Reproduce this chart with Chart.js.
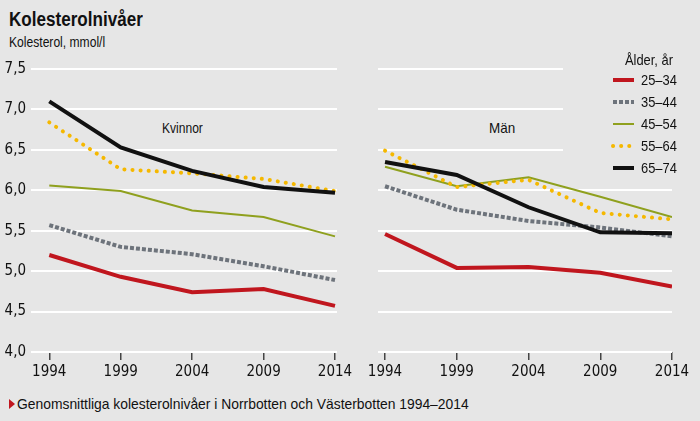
<!DOCTYPE html>
<html>
<head>
<meta charset="utf-8">
<script src="https://cdn.jsdelivr.net/npm/chart.js@4"></script>
<style>
  body {
    margin: 0;
    width: 700px;
    height: 421px;
    overflow: hidden;
    position: relative;
    background: #e6e6e6;
    font-family: "Liberation Sans", Arial, sans-serif;
    color: #111;
  }
  .abs { position: absolute; line-height: 1; white-space: nowrap; transform-origin: 0 50%; }
  #title { left: 9px; top: 9px; font-size: 20px; font-weight: bold; }
  #subtitle { left: 9px; top: 34px; font-size: 15px; }
  .panel { font-size: 15px; }
  #footer { left: 17px; top: 396px; font-size: 15px; }
  #tri {
    left: 9px; top: 399px; width: 0; height: 0;
    border-left: 6px solid #c0161e;
    border-top: 5px solid transparent;
    border-bottom: 5px solid transparent;
  }
  canvas { position: absolute; }
</style>
</head>
<body>
<div class="abs fit" id="title" data-w="134">Kolesterolnivåer</div>
<div class="abs fit" id="subtitle" data-w="96">Kolesterol, mmol/l</div>
<div class="abs panel fit" style="left:162px;top:120px" data-w="41">Kvinnor</div>
<div class="abs panel fit" style="left:489px;top:120px" data-w="26">Män</div>
<div class="abs" id="tri"></div>
<div class="abs fit" id="footer" data-w="452">Genomsnittliga kolesterolnivåer i Norrbotten och Västerbotten 1994–2014</div>
<canvas id="kvinnor" width="360" height="350" style="left:0;top:40px"></canvas>
<canvas id="man" width="350" height="350" style="left:350px;top:40px"></canvas>
<script>
const years = [1994, 1999, 2004, 2009, 2014];
const ageGroups = ["25–34", "35–44", "45–54", "55–64", "65–74"];
const yTicks = [4.0, 4.5, 5.0, 5.5, 6.0, 6.5, 7.0, 7.5];

// Kvinnor
const kvinnor25 = [5.20, 4.93, 4.74, 4.78, 4.57];
const kvinnor35 = [5.57, 5.30, 5.21, 5.06, 4.89];
const kvinnor45 = [6.06, 5.99, 5.75, 5.67, 5.43];
const kvinnor55 = [6.84, 6.26, 6.21, 6.14, 5.99];
const kvinnor65 = [7.10, 6.53, 6.24, 6.04, 5.97];

// Män
const man25 = [5.46, 5.04, 5.05, 4.98, 4.81];
const man35 = [6.05, 5.76, 5.62, 5.54, 5.43];
const man45 = [6.29, 6.05, 6.16, 5.92, 5.67];
const man55 = [6.49, 6.04, 6.13, 5.72, 5.64];
const man65 = [6.35, 6.19, 5.79, 5.48, 5.47];

const BG = "#e6e6e6";
const TICK_FONT = "'DejaVu Sans Condensed', sans-serif";
const TEXT_FONT = "'Liberation Sans', Arial, sans-serif";

// squeeze the html text into a condensed look
document.querySelectorAll(".fit").forEach((el) => {
  const s = Number(el.dataset.w) / el.offsetWidth;
  el.style.transform = "scaleX(" + s + ")";
});

const styles = [
  { borderColor: "#c0161e", borderWidth: 4, borderDash: [], borderCapStyle: "butt", order: 4 },
  { borderColor: "#6d737b", borderWidth: 4, borderDash: [4, 2], borderCapStyle: "butt", order: 3 },
  { borderColor: "#8fa01e", borderWidth: 2, borderDash: [], borderCapStyle: "butt", order: 2 },
  { borderColor: "#f5b800", borderWidth: 4, borderDash: [0.1, 8], borderCapStyle: "round", order: 1 },
  { borderColor: "#111111", borderWidth: 4, borderDash: [], borderCapStyle: "butt", order: 0 },
];

function makeDatasets(series) {
  return series.map((vals, i) => ({
    label: ageGroups[i],
    data: vals.map((v, j) => ({ x: years[j], y: v })),
    pointRadius: 0,
    tension: 0,
    fill: false,
    ...styles[i],
  }));
}

function squeezedText(ctx, text, x, y, align, sx) {
  ctx.save();
  ctx.translate(x, y);
  ctx.scale(sx, 1);
  ctx.textAlign = align;
  ctx.fillText(text, 0, 0);
  ctx.restore();
}

const legendPlugin = {
  id: "sideLegend",
  beforeDatasetsDraw(chart) {
    const ctx = chart.ctx;
    ctx.save();
    ctx.fillStyle = BG;
    ctx.fillRect(213, 10, 137, 125);
    ctx.restore();
  },
  afterDraw(chart) {
    const ctx = chart.ctx;
    ctx.save();
    ctx.font = "15px " + TEXT_FONT;
    ctx.fillStyle = "#111";
    ctx.textBaseline = "middle";
    squeezedText(ctx, "Ålder, år", 323, 21, "right", 0.86);
    chart.data.datasets.forEach((ds, i) => {
      const y = 40 + 22 * i;
      ctx.beginPath();
      ctx.strokeStyle = ds.borderColor;
      ctx.lineWidth = ds.borderWidth;
      ctx.lineCap = ds.borderCapStyle;
      ctx.setLineDash(ds.borderDash);
      ctx.moveTo(263, y);
      ctx.lineTo(284, y);
      ctx.stroke();
      ctx.setLineDash([]);
      squeezedText(ctx, ds.label, 291, y + 1, "left", 0.86);
    });
    ctx.restore();
  },
};

function makeChart(id, series, opts) {
  return new Chart(document.getElementById(id), {
    type: "line",
    data: { datasets: makeDatasets(series) },
    plugins: opts.plugins || [],
    options: {
      responsive: false,
      animation: false,
      layout: { padding: opts.padding },
      plugins: { legend: { display: false }, tooltip: { enabled: false } },
      scales: {
        x: {
          type: "linear",
          min: opts.xMin,
          max: opts.xMax,
          afterBuildTicks: (scale) => { scale.ticks = years.map((v) => ({ value: v })); },
          afterFit: (scale) => { scale.height = 38; },
          border: { display: false },
          grid: { drawOnChartArea: false, drawTicks: true, tickLength: 8, color: "#444", lineWidth: 1.5 },
          ticks: { padding: 3, color: "#111", font: { family: TICK_FONT, size: 15 }, callback: (v) => String(v), maxRotation: 0 },
        },
        y: {
          min: 4,
          max: 7.5,
          afterBuildTicks: (scale) => { scale.ticks = yTicks.map((v) => ({ value: v })); },
          afterFit: (scale) => { scale.width = opts.yWidth; },
          border: { display: false },
          grid: { color: "#ffffff", lineWidth: 2, drawTicks: false },
          ticks: {
            display: opts.showY,
            padding: 5,
            color: "#111",
            font: { family: TICK_FONT, size: 15 },
            callback: (v) => v.toFixed(1).replace(".", ","),
          },
        },
      },
    },
  });
}

makeChart("kvinnor", [kvinnor25, kvinnor35, kvinnor45, kvinnor55, kvinnor65], {
  padding: { top: 29, right: 23, left: 0, bottom: 0 },
  xMin: 1992.72, xMax: 2014.14, yWidth: 31, showY: true,
});

makeChart("man", [man25, man35, man45, man55, man65], {
  padding: { top: 29, right: 28, left: 28, bottom: 0 },
  xMin: 1993.51, xMax: 2014, yWidth: 0, showY: false,
  plugins: [legendPlugin],
});
</script>
</body>
</html>
